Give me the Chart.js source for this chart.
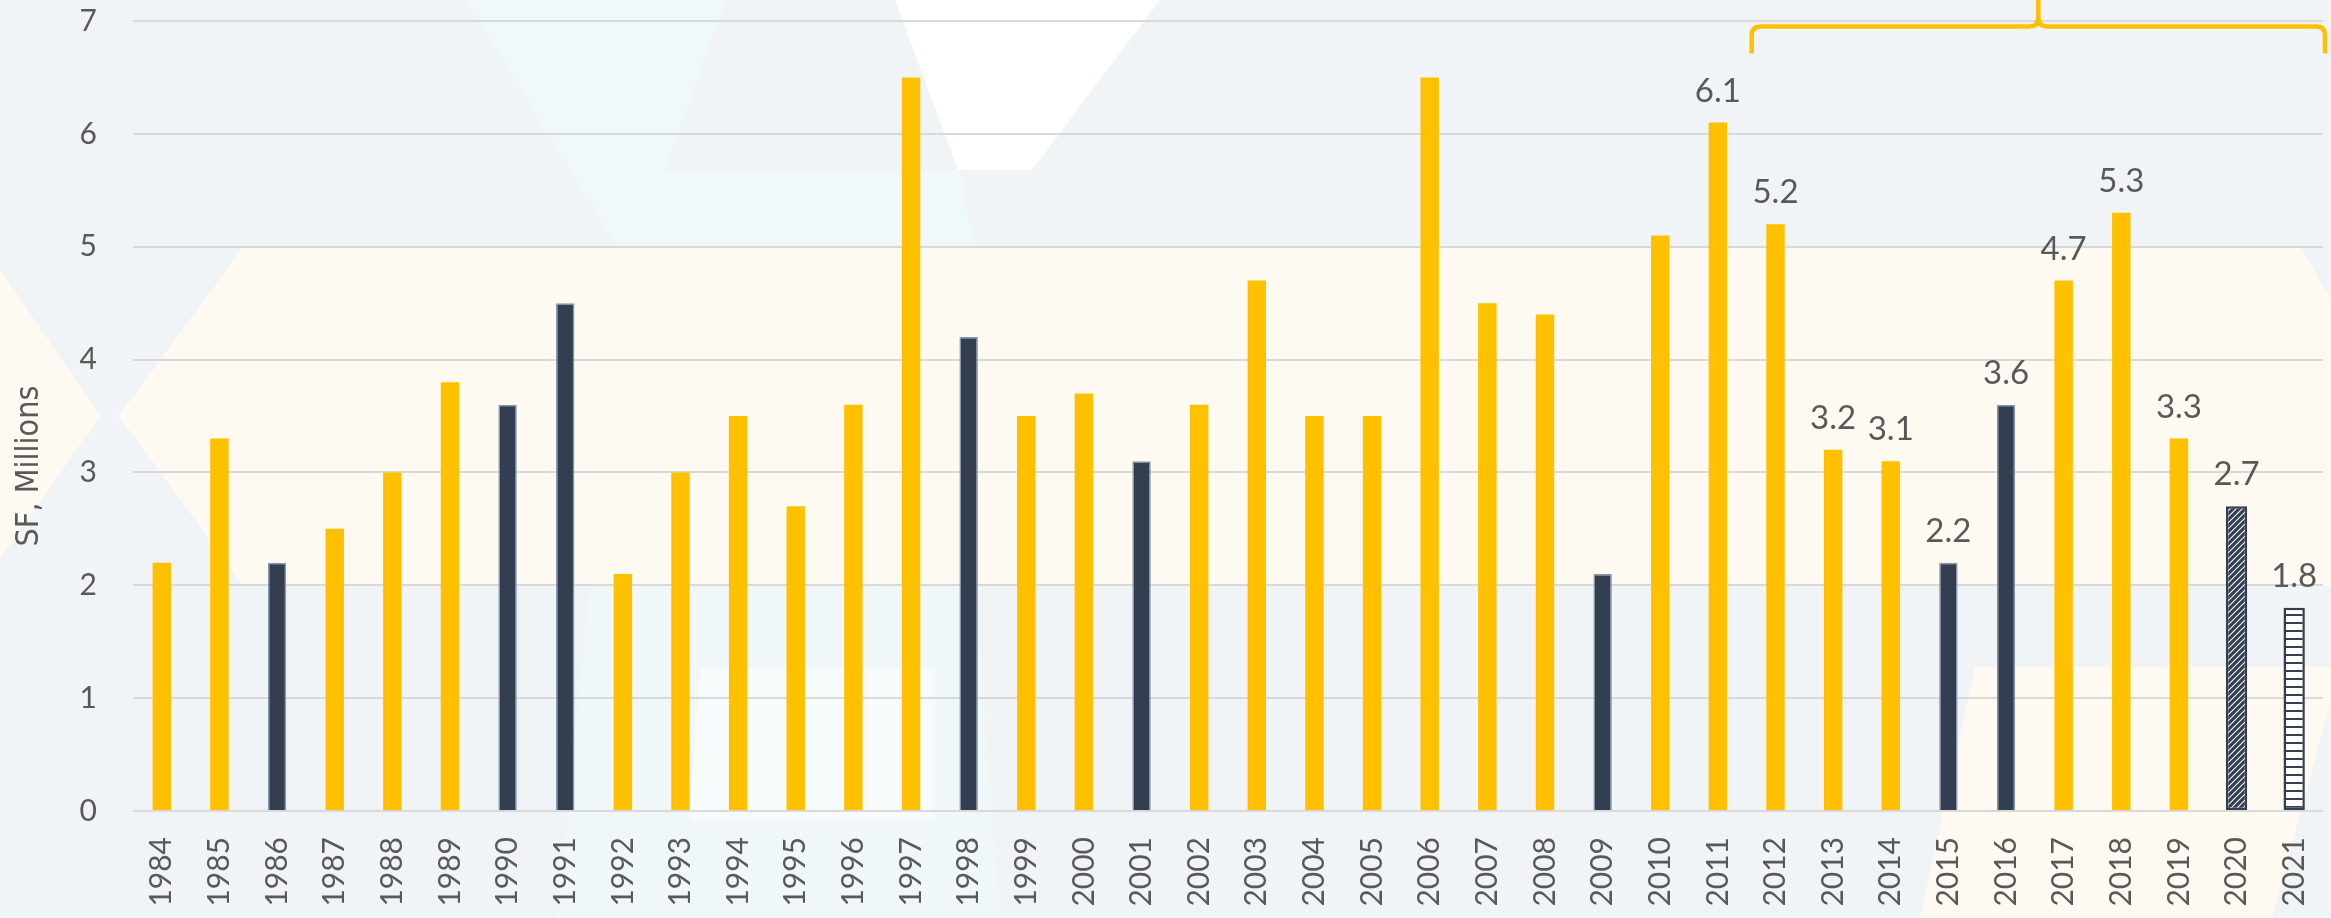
<!DOCTYPE html>
<html><head><meta charset="utf-8">
<script src="https://cdn.jsdelivr.net/npm/chart.js@4.4.1/dist/chart.umd.min.js"></script>
<style>html,body{margin:0;padding:0;background:#f1f4f6;overflow:hidden}#wrap{width:2331px;height:918px}</style>
</head><body><div id="wrap"><canvas id="c" width="2331" height="918"></canvas></div>
<script>
// ---- data ----
const years = ['1984','1985','1986','1987','1988','1989','1990','1991','1992','1993','1994','1995','1996','1997','1998','1999','2000','2001','2002','2003','2004','2005','2006','2007','2008','2009','2010','2011','2012','2013','2014','2015','2016','2017','2018','2019','2020','2021'];
const values = [2.2,3.3,2.2,2.5,3.0,3.8,3.6,4.5,2.1,3.0,3.5,2.7,3.6,6.5,4.2,3.5,3.7,3.1,3.6,4.7,3.5,3.5,6.5,4.5,4.4,2.1,5.1,6.1,5.2,3.2,3.1,2.2,3.6,4.7,5.3,3.3,2.7,1.8];
const recessionYears = ['1986','1990','1991','1998','2001','2009','2015','2016'];
const hatchYears = ['2020'];
const stripeYears = ['2021'];
const labeledYears = ['2011','2012','2013','2014','2015','2016','2017','2018','2019','2020','2021'];
const braceFromYear = '2012';
const yTicks = [0,1,2,3,4,5,6,7];
const yTitle = 'SF, Millions';

// ---- styles ----
const GOLD = '#ffc000', NAVY = '#333f50', NAVY_EDGE = '#8497b0', TXT = '#595959';

function makeHatch(){
  const s = 6, p = document.createElement('canvas'); p.width = s; p.height = s;
  const g = p.getContext('2d');
  g.fillStyle = '#ffffff'; g.fillRect(0,0,s,s);
  g.strokeStyle = NAVY; g.lineWidth = 3.2; g.beginPath();
  g.moveTo(-1, s+1); g.lineTo(s+1, -1);
  g.moveTo(-1-s/2, s/2+1); g.lineTo(s/2+1, -1-s/2);
  g.moveTo(s/2-1, s+s/2+1); g.lineTo(s+s/2+1, s/2-1);
  g.stroke();
  return g.createPattern(p,'repeat');
}
function makeStripes(){
  const p = document.createElement('canvas'); p.width = 8; p.height = 8;
  const g = p.getContext('2d');
  g.fillStyle = '#ffffff'; g.fillRect(0,0,8,8);
  g.fillStyle = NAVY; g.fillRect(0,6,8,2);
  return g.createPattern(p,'repeat');
}
const hatch = makeHatch(), stripes = makeStripes();
const isSpecial = y => hatchYears.includes(y) || stripeYears.includes(y);

const mainData = values.map((v,i)=> isSpecial(years[i]) ? null : v);
const specData = values.map((v,i)=> isSpecial(years[i]) ? v : null);

const bgPlugin = {
  id:'bg',
  beforeDraw(chart){
    const c = chart.ctx; c.save();
    c.fillStyle = '#f1f4f6'; c.fillRect(0,0,chart.width,chart.height);
    const poly = (pts, col) => { c.fillStyle = col; c.beginPath(); pts.forEach((p,i)=> i? c.lineTo(p[0],p[1]) : c.moveTo(p[0],p[1])); c.closePath(); c.fill(); };
    // light shapes at the top
    poly([[466,0],[726,0],[665,170],[960,170],[975,247],[617,247]], '#eff8fa');
    poly([[895,0],[1160,0],[1032,170],[958,170]], '#ffffff');
    // cream band
    poly([[119,416],[244,246],[2300,246],[2331,300],[2331,586],[244,586]], '#fefaf2');
    poly([[0,269],[100,416],[0,559]], '#fefaf2');
    // lighter shapes below the band
    poly([[557,918],[590,586],[975,586],[1000,918]], '#f0f7f9');
    poly([[690,820],[700,667],[935,667],[935,820]], '#f8fbfc');
    // cream patch at bottom right
    poly([[1975,667],[2331,667],[2331,700],[2272,918],[1920,918]], '#fefaf2');
    c.restore();
  }
};

const labelPlugin = {
  id:'labels',
  afterDatasetsDraw(chart){
    const c = chart.ctx; c.save();
    c.font = '33px Lato'; c.fillStyle = TXT; c.textAlign = 'center'; c.textBaseline = 'alphabetic';
    years.forEach((y,i)=>{
      if(!labeledYears.includes(y)) return;
      const ds = isSpecial(y) ? 1 : 0;
      const el = chart.getDatasetMeta(ds).data[i];
      c.fillText(values[i].toFixed(1), el.x, el.y - 21);
    });
    c.restore();
  }
};

const titlePlugin = {
  id:'ytitle',
  afterDraw(chart){
    const c = chart.ctx, a = chart.chartArea; c.save();
    c.translate(30, (a.top + a.bottom)/2 + 50);
    c.rotate(-Math.PI/2);
    c.font = "32px 'DejaVu Sans Condensed', 'DejaVu Sans'";
    c.fillStyle = TXT; c.textAlign = 'center'; c.textBaseline = 'middle';
    c.fillText(yTitle, 0, 0);
    c.restore();
  }
};

const bracePlugin = {
  id:'brace',
  afterDraw(chart){
    const c = chart.ctx, xs = chart.scales.x, ys = chart.scales.y;
    const i = years.indexOf(braceFromYear);
    const xL = (xs.getPixelForValue(i-1) + xs.getPixelForValue(i))/2 + 5;
    const xR = chart.chartArea.right + 2;
    const yT = ys.getPixelForValue(7) + 5.5, yE = yT + 27, r = 9;
    const m = (xL + xR)/2;
    c.save();
    c.strokeStyle = GOLD; c.lineWidth = 4.5; c.lineCap = 'butt'; c.lineJoin = 'round';
    c.beginPath();
    c.moveTo(xL, yE); c.lineTo(xL, yT + r); c.quadraticCurveTo(xL, yT, xL + r, yT);
    c.lineTo(m - r, yT); c.quadraticCurveTo(m, yT, m, yT - r); c.lineTo(m, -2);
    c.moveTo(m, yT - r); c.quadraticCurveTo(m, yT, m + r, yT);
    c.lineTo(xR - r, yT); c.quadraticCurveTo(xR, yT, xR, yT + r); c.lineTo(xR, yE);
    c.stroke();
    c.restore();
  }
};

new Chart(document.getElementById('c'), {
  type:'bar',
  data:{
    labels: years,
    datasets:[
      {
        data: mainData,
        backgroundColor: years.map(y => recessionYears.includes(y) ? NAVY : GOLD),
        borderColor: years.map(y => recessionYears.includes(y) ? NAVY_EDGE : GOLD),
        borderWidth: years.map(y => recessionYears.includes(y) ? 1.5 : 0),
        borderSkipped: 'bottom',
        barPercentage: 0.32, categoryPercentage: 1, grouped: false
      },
      {
        data: specData,
        backgroundColor: years.map(y => hatchYears.includes(y) ? hatch : stripes),
        borderColor: NAVY,
        borderWidth: 2.5,
        borderSkipped: false,
        barPercentage: 0.37, categoryPercentage: 1, grouped: false
      }
    ]
  },
  options:{
    responsive:false, animation:false, devicePixelRatio:1,
    layout:{ padding:{ top:21, right:8, left:0, bottom:0 } },
    plugins:{ legend:{display:false}, tooltip:{enabled:false} },
    scales:{
      x:{
        grid:{ display:false, drawTicks:false },
        border:{ display:false },
        ticks:{ autoSkip:false, minRotation:90, maxRotation:90, padding:26, color:TXT, font:{ family:'Lato', size:30 } },
        afterFit(s){ s.height = 107; s.paddingLeft = 0; s.paddingRight = 0; }
      },
      y:{
        min:0, max:7,
        afterBuildTicks(s){ s.ticks = yTicks.map(v => ({value:v})); },
        grid:{ color:'#d9d9d9', lineWidth:2, drawTicks:false },
        border:{ display:false },
        ticks:{ padding:36, color:TXT, font:{ family:'Lato', size:30 } },
        afterFit(s){ s.width = 133; s.paddingTop = 0; s.paddingBottom = 0; }
      }
    }
  },
  plugins:[bgPlugin, labelPlugin, titlePlugin, bracePlugin]
});
</script></body></html>
